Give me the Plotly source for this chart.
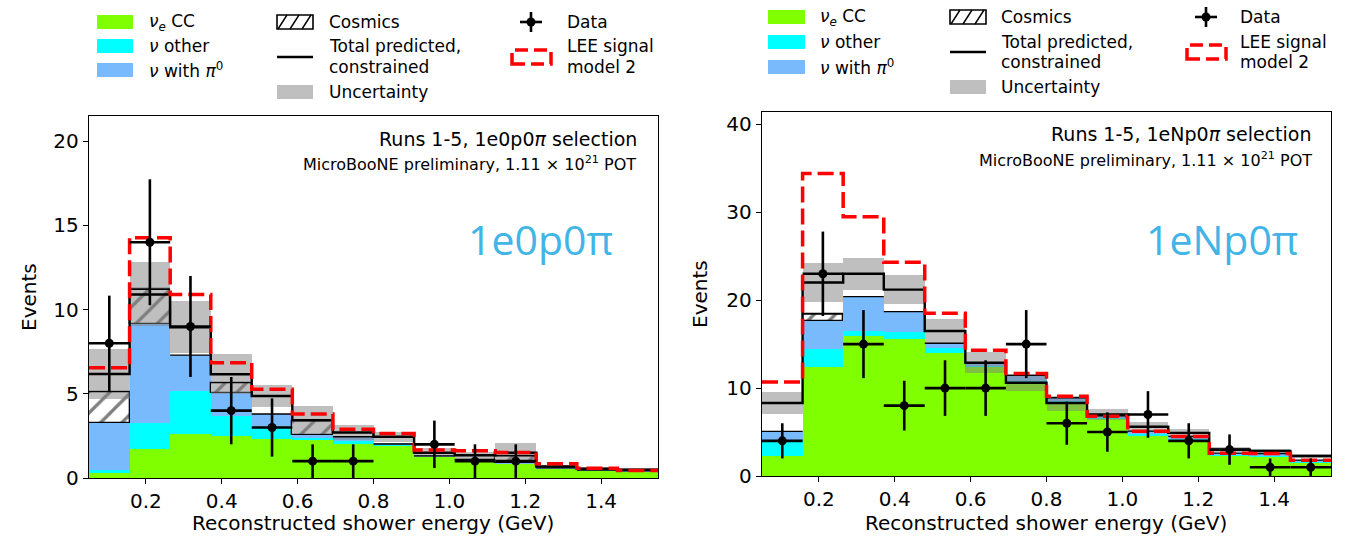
import plotly.graph_objects as go

W, H = 1350, 542
FONT = "DejaVu Sans"

# ---------------- data ----------------
bin_edges = [0.05, 0.157, 0.264, 0.371, 0.479, 0.586, 0.693, 0.800,
             0.907, 1.014, 1.121, 1.229, 1.336, 1.443, 1.55]
x_tick_vals = [0.2, 0.4, 0.6, 0.8, 1.0, 1.2, 1.4]
x_tick_text = ["0.2", "0.4", "0.6", "0.8", "1.0", "1.2", "1.4"]
l_y_ticks = [0, 5, 10, 15, 20]
r_y_ticks = [0, 10, 20, 30, 40]

# 1e0p0pi selection
l_nue_cc = [0.28, 1.70, 2.59, 2.49, 2.32, 2.30, 2.00, 1.95, 1.27, 1.05, 0.85, 0.55, 0.42, 0.38]
l_nu_other = [0.19, 1.55, 2.58, 1.19, 0.63, 0.10, 0.20, 0.03, 0.02, 0.03, 0.01, 0.02, 0.02, 0.02]
l_nu_pi0 = [2.82, 5.88, 2.13, 1.35, 0.85, 0.15, 0.25, 0.04, 0.02, 0.03, 0.01, 0.03, 0.03, 0.03]
l_cosmics = [1.84, 2.07, 0, 0.63, 0, 0.85, 0, 0, 0, 0, 0.45, 0, 0, 0]
l_total = [6.18, 10.9, 8.95, 6.16, 4.87, 3.44, 2.70, 2.45, 1.50, 1.35, 1.50, 0.68, 0.55, 0.50]
l_unc = [1.5, 1.9, 1.55, 1.2, 0.67, 0.85, 0.45, 0.3, 0.27, 0.22, 0.57, 0.1, 0.08, 0.08]
l_lee = [6.55, 14.27, 10.9, 6.85, 5.27, 3.8, 2.89, 2.65, 1.66, 1.62, 1.52, 0.85, 0.58, 0.45]
l_data = [8, 14, 9, 4, 3, 1, 1, None, 2, 1, 1, None, None, None]
l_data_err = [2.83, 3.74, 3.0, 2.0, 1.73, 1.0, 1.0, None, 1.41, 1.0, 1.0, None, None, None]

# 1eNp0pi selection
r_nue_cc = [2.28, 12.4, 15.9, 15.6, 14.0, 12.4, 10.6, 8.4, 6.5, 4.65, 4.1, 2.3, 2.25, 1.5]
r_nu_other = [1.78, 2.0, 0.6, 0.8, 0.6, 0.1, 0.2, 0.15, 0.1, 0.15, 0.1, 0.1, 0.1, 0.1]
r_nu_pi0 = [1.02, 3.2, 3.9, 2.3, 0.5, 0.3, 0.65, 0.35, 0.25, 0.3, 0.3, 0.2, 0.2, 0.2]
r_cosmics = [0, 0.8, 0, 0, 0, 0, 0, 0, 0, 0, 0, 0, 0, 0]
r_total = [8.3, 22.0, 23.0, 21.2, 16.5, 12.9, 10.6, 8.3, 7.0, 5.6, 4.9, 3.0, 2.85, 2.28]
r_unc = [1.25, 2.2, 1.8, 1.65, 1.35, 1.15, 0.95, 0.85, 0.6, 0.55, 0.4, 0.3, 0.25, 0.25]
r_lee = [10.7, 34.4, 29.5, 24.3, 18.5, 14.3, 11.65, 9.07, 6.8, 5.1, 4.5, 2.6, 2.55, 1.8]
r_data = [4, 23, 15, 8, 10, 10, 15, 6, 5, 7, 4, 3, 1, 1]
r_data_err = [2.0, 4.8, 3.87, 2.83, 3.16, 3.16, 3.87, 2.45, 2.24, 2.65, 2.0, 1.73, 1.0, 1.0]

# ---------------- styles ----------------
C_NUE = "#80FF00"
C_OTH = "#00FFFF"
C_PI0 = "#78BAFC"
C_UNC = "rgba(128,128,128,0.5)"
C_LEE = "#FF0000"
C_LABEL = "#42B4E6"

centers = [(a + b) / 2 for a, b in zip(bin_edges[:-1], bin_edges[1:])]
widths = [b - a for a, b in zip(bin_edges[:-1], bin_edges[1:])]

fig = go.Figure()


def add_panel(xa, ya, nue, oth, pi0, cos, total, unc, lee, data, derr):
    n = len(nue)
    b_oth = [nue[i] for i in range(n)]
    b_pi0 = [nue[i] + oth[i] for i in range(n)]
    b_cos = [b_pi0[i] + pi0[i] for i in range(n)]
    top = [b_cos[i] + cos[i] for i in range(n)]
    common = dict(xaxis=xa, yaxis=ya, width=widths, hoverinfo="skip")
    fig.add_trace(go.Bar(x=centers, y=nue, base=[0] * n,
                         marker=dict(color=C_NUE, line=dict(width=0)), **common))
    fig.add_trace(go.Bar(x=centers, y=oth, base=b_oth,
                         marker=dict(color=C_OTH, line=dict(width=0)), **common))
    fig.add_trace(go.Bar(x=centers, y=pi0, base=b_pi0,
                         marker=dict(color=C_PI0, line=dict(width=0)), **common))
    idx = [i for i in range(n) if cos[i] > 0]
    fig.add_trace(go.Bar(x=[centers[i] for i in idx], y=[cos[i] for i in idx],
                         base=[b_cos[i] for i in idx], width=[widths[i] for i in idx],
                         xaxis=xa, yaxis=ya, hoverinfo="skip",
                         marker=dict(color="white", line=dict(color="black", width=1.3),
                                     pattern=dict(shape="/", fgcolor="black", bgcolor="white",
                                                  size=15, solidity=0.22))))
    # uncertainty band
    fig.add_trace(go.Bar(x=centers, y=[2 * u for u in unc],
                         base=[t - u for t, u in zip(total, unc)],
                         marker=dict(color=C_UNC, line=dict(width=0)), **common))
    # stack outline (edges of cosmics histogram)
    sx, sy = [], []
    for i in range(n):
        sx += [bin_edges[i], bin_edges[i + 1], None]
        sy += [top[i], top[i], None]
    fig.add_trace(go.Scatter(x=sx, y=sy, mode="lines", xaxis=xa, yaxis=ya,
                             line=dict(color="black", width=1.3), hoverinfo="skip"))
    # total predicted constrained
    fig.add_trace(go.Scatter(x=bin_edges, y=total + [total[-1]], mode="lines",
                             line=dict(color="black", width=2.4, shape="hv"),
                             xaxis=xa, yaxis=ya, hoverinfo="skip"))
    # LEE model
    fig.add_trace(go.Scatter(x=bin_edges, y=lee + [lee[-1]], mode="lines",
                             line=dict(color=C_LEE, width=3.5, shape="hv", dash="16px,6px"),
                             xaxis=xa, yaxis=ya, hoverinfo="skip"))
    # data
    fig.add_trace(go.Scatter(x=centers, y=data, mode="markers", xaxis=xa, yaxis=ya,
                             marker=dict(color="black", size=9),
                             error_y=dict(type="data", array=derr, color="black",
                                          thickness=2.6, width=0),
                             error_x=dict(type="data", array=[w / 2 for w in widths],
                                          color="black", thickness=2.6, width=0),
                             hoverinfo="skip"))


add_panel("x", "y", l_nue_cc, l_nu_other, l_nu_pi0, l_cosmics, l_total, l_unc, l_lee,
          l_data, l_data_err)
add_panel("x2", "y2", r_nue_cc, r_nu_other, r_nu_pi0, r_cosmics, r_total, r_unc, r_lee,
          r_data, r_data_err)


def px(x):
    return x / W


def py(y):
    return 1 - y / H


axis_common = dict(showline=True, linecolor="black", linewidth=1.4, mirror=True,
                   ticks="outside", ticklen=5, tickwidth=1.3, tickcolor="black",
                   showgrid=False, zeroline=False, automargin=False,
                   tickfont=dict(family=FONT, size=20, color="black"))

fig.update_layout(
    width=W, height=H, margin=dict(l=0, r=0, t=0, b=0, autoexpand=False),
    paper_bgcolor="white", plot_bgcolor="white",
    barmode="overlay", bargap=0, showlegend=False,
    font=dict(family=FONT, color="black"),
    xaxis=dict(domain=[px(89), px(658)], range=[0.05, 1.55], tickvals=x_tick_vals,
               ticktext=x_tick_text, anchor="y", **axis_common),
    yaxis=dict(domain=[py(478), py(116)], range=[0, 21.5], tickvals=l_y_ticks,
               anchor="x", **axis_common),
    xaxis2=dict(domain=[px(762), px(1331)], range=[0.05, 1.55], tickvals=x_tick_vals,
                ticktext=x_tick_text, anchor="y2", **axis_common),
    yaxis2=dict(domain=[py(476), py(112)], range=[0, 41.4], tickvals=r_y_ticks,
                anchor="x2", **axis_common),
)

ann = []
shapes = []


def text(x, y, s, size=17, xanchor="left", color="black", family=FONT, angle=0):
    ann.append(dict(x=px(x), y=py(y), xref="paper", yref="paper", text=s, showarrow=False,
                    xanchor=xanchor, yanchor="middle", textangle=angle,
                    font=dict(family=family, size=size, color=color)))


# axis titles
text(29, 297, "Events", size=20, xanchor="center", angle=-90)
text(700, 294, "Events", size=20, xanchor="center", angle=-90)
text(373, 523, "Reconstructed shower energy (GeV)", size=20, xanchor="center")
text(1046, 523, "Reconstructed shower energy (GeV)", size=20, xanchor="center")

# in-plot labels
text(639, 139, "Runs 1-5, 1e0p0<i>π</i> selection", size=19, xanchor="right")
text(638, 163, "MicroBooNE preliminary, 1.11 × 10<sup>21</sup> POT", size=16, xanchor="right")
text(540, 239, "1e0p0π", size=41, xanchor="center", color=C_LABEL, family="Open Sans")
text(1314, 134, "Runs 1-5, 1eNp0<i>π</i> selection", size=19, xanchor="right")
text(1314, 159, "MicroBooNE preliminary, 1.11 × 10<sup>21</sup> POT", size=16, xanchor="right")
text(1222, 239, "1eNp0π", size=41, xanchor="center", color=C_LABEL, family="Open Sans")


def rect(x0, y0, x1, y1, fill, line_color=None, line_width=0, dash=None):
    d = dict(type="rect", xref="paper", yref="paper", x0=px(x0), x1=px(x1),
             y0=py(y1), y1=py(y0), fillcolor=fill,
             line=dict(width=line_width, color=line_color or "rgba(0,0,0,0)"))
    if dash:
        d["line"]["dash"] = dash
    shapes.append(d)


def seg(x0, y0, x1, y1, color="black", width=2, dash=None):
    d = dict(type="line", xref="paper", yref="paper", x0=px(x0), x1=px(x1),
             y0=py(y0), y1=py(y1), line=dict(color=color, width=width))
    if dash:
        d["line"]["dash"] = dash
    shapes.append(d)


def legend(c1, t1, rows1, c2, t2, r_cos, r_tot, r_totline, r_unc, xm, c3, t3, r_data, r_lee):
    hh = 7
    labels1 = ["<i>ν</i><sub><i>e</i></sub> CC", "<i>ν</i> other",
               "<i>ν</i> with <i>π</i><sup>0</sup>"]
    colors1 = [C_NUE, C_OTH, C_PI0]
    for y, lab, col in zip(rows1, labels1, colors1):
        rect(c1[0], y - hh, c1[1], y + hh, col)
        text(t1, y, lab)
    # cosmics
    x0, x1 = c2
    rect(x0, r_cos - hh, x1, r_cos + hh, "white", "black", 1.6)
    for off in [1, 13, 25]:
        seg(x0 + off, r_cos + hh, x0 + off + 9, r_cos - hh, width=1.4)
    text(t2, r_cos, "Cosmics")
    seg(x0, r_totline, x1, r_totline, width=2.4)
    text(t2, r_tot[0], "Total predicted,")
    text(t2, r_tot[1], "constrained")
    rect(x0, r_unc - hh, x1, r_unc + hh, "#BFBFBF")
    text(t2, r_unc, "Uncertainty")
    # data
    seg(xm, r_data - 10, xm, r_data + 10, width=2.6)
    seg(xm - 11, r_data, xm + 11, r_data, width=2.6)
    shapes.append(dict(type="circle", xref="paper", yref="paper", x0=px(xm - 4.5),
                       x1=px(xm + 4.5), y0=py(r_data + 4.5), y1=py(r_data - 4.5),
                       fillcolor="black", line=dict(width=0)))
    text(t3, r_data, "Data")
    rect(c3[0], r_totline - hh, c3[1], r_totline + hh, "rgba(0,0,0,0)", C_LEE, 3.5,
         dash="13px,6px")
    text(t3, r_lee[0], "LEE signal")
    text(t3, r_lee[1], "model 2")


legend((97, 133), 147, [22, 46, 70], (277, 313), 327, 22, (46, 67), 57, 92,
       531, (512, 551), 565, 22, (46, 67))
legend((768, 805), 818, [17, 42, 67], (950, 986), 999, 17, (42, 62), 52, 87,
       1206, (1187, 1226), 1238, 17, (42, 62))

fig.update_layout(annotations=ann, shapes=shapes)
fig.write_html("out.html")
